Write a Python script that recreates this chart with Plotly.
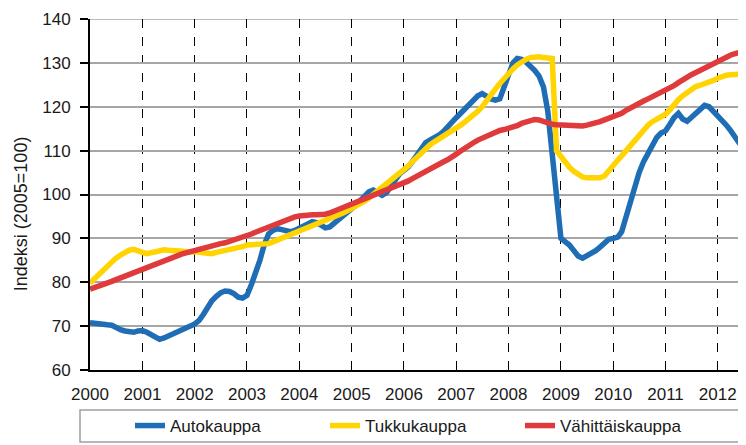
import pandas as pd
import plotly.graph_objects as go

months = pd.date_range("2000-01-01", periods=151, freq="MS")

autokauppa = [
    70.8, 70.6, 70.4, 70.5, 70.3, 70.2, 69.6, 69.2, 68.9, 68.7, 68.6, 68.9,
    69.0, 68.6, 68.0, 67.3, 67.0, 67.3, 67.8, 68.2, 68.8, 69.3, 69.7, 70.0,
    70.5, 71.3, 72.6, 74.2, 75.8, 76.8, 77.6, 78.0, 77.9, 77.4, 76.6, 76.4,
    77.0, 79.5, 82.0, 85.0, 88.5, 91.0, 91.8, 92.2, 92.0, 91.6, 91.5, 91.8,
    92.2, 92.7, 93.3, 93.8, 93.6, 93.0, 92.4, 92.6, 93.5, 94.5, 95.2, 96.0,
    96.8, 97.6, 98.5, 99.5, 100.6, 101.0, 100.3, 99.8, 100.4, 101.8, 103.3, 104.7,
    105.5, 106.3, 107.5, 109.0, 110.5, 111.8, 112.4, 112.8, 113.5, 114.3, 115.5, 116.3,
    117.5, 118.5, 119.5, 120.5, 121.5, 122.5, 123.0, 122.3, 121.8, 121.5, 121.8, 124.5,
    127.5, 130.0, 131.0, 130.8, 130.2, 129.3, 128.3, 127.0, 124.5, 119.0, 110.0, 99.0,
    90.0, 89.2, 88.5, 87.2, 86.0, 85.5, 86.0, 86.8, 87.2, 88.0, 89.0, 89.8,
    90.0, 90.3, 91.5, 95.0, 99.0, 102.5, 105.0, 107.5, 109.5, 111.5, 113.0, 114.0,
    114.5, 116.0, 117.5, 118.5, 117.2, 116.7, 117.5, 118.5, 119.5, 120.3, 120.0, 119.0,
    118.2, 117.0, 115.8, 114.5, 113.0, 111.6, 110.2,
]

tukkukauppa = [
    79.8, 80.8, 81.8, 82.8, 83.8, 84.8, 85.5, 86.2, 86.8, 87.3, 87.5, 87.3,
    86.8, 86.5, 86.7, 87.0, 87.2, 87.4, 87.3, 87.3, 87.1, 87.0, 87.0, 86.9,
    87.0, 86.9, 86.7, 86.5, 86.5, 86.8, 87.0, 87.0, 87.2, 87.5, 87.8, 88.1,
    88.5, 88.6, 88.7, 88.6, 88.6, 88.8, 89.2, 89.6, 90.0, 90.5, 91.0, 91.4,
    91.8, 92.1, 92.5, 92.8, 93.2, 93.6, 94.0, 94.4, 94.8, 95.3, 95.8, 96.3,
    96.8, 97.3, 97.8, 98.5, 99.2, 100.0, 100.8, 101.6, 102.4, 103.2, 104.0, 104.6,
    105.5, 106.5, 107.5, 108.5, 109.5, 110.5, 111.3, 112.0, 112.6, 113.2, 113.8, 114.4,
    115.0, 115.8, 116.5, 117.3, 118.0, 119.0, 120.0, 121.2, 122.5, 124.0, 125.3, 126.5,
    127.7, 128.6, 129.5, 130.3, 130.8, 131.2, 131.4, 131.4, 131.2, 131.2, 131.0, 110.0,
    108.5, 107.2, 106.2, 105.3, 104.5, 104.0, 103.8, 103.7, 103.7, 103.8, 104.2, 105.5,
    106.8, 107.8, 108.8, 110.0, 111.0, 112.5, 113.8, 114.8, 115.8, 116.6, 117.2, 117.6,
    118.3, 119.3, 120.5, 121.6, 122.5, 123.3, 124.0, 124.6, 124.9, 125.2, 125.5, 126.0,
    126.5, 127.0, 127.2, 127.3, 127.3, 127.4, 127.5,
]

vahittaiskauppa = [
    78.4, 78.7, 79.1, 79.5, 79.8, 80.2, 80.6, 81.0, 81.4, 81.8, 82.2, 82.6,
    83.0, 83.4, 83.9, 84.3, 84.7, 85.1, 85.5, 85.8, 86.1, 86.4, 86.7, 87.0,
    87.2, 87.5, 87.8, 88.0, 88.3, 88.5, 88.8, 89.0, 89.3, 89.6, 89.9, 90.2,
    90.6, 91.0, 91.4, 91.8, 92.3, 92.8, 93.2, 93.6, 94.0, 94.3, 94.6, 94.9,
    95.1, 95.3, 95.4, 95.4, 95.4, 95.4, 95.5, 95.8, 96.2, 96.7, 97.2, 97.6,
    97.9, 98.2, 98.6, 99.0, 99.4, 99.9, 100.3, 100.7, 101.1, 101.5, 101.8, 102.1,
    102.6, 103.1, 103.6, 104.2, 104.8, 105.3, 105.9, 106.4, 106.9, 107.4, 107.9, 108.4,
    109.2, 109.9, 110.6, 111.2, 111.8, 112.4, 112.9, 113.4, 113.9, 114.3, 114.6, 114.8,
    115.0, 115.3, 115.7, 116.2, 116.6, 116.9, 117.1, 117.0, 116.6, 116.2, 116.0, 115.9,
    115.8, 115.7, 115.6, 115.5, 115.5, 115.6, 115.8, 116.0, 116.3, 116.6, 117.0, 117.3,
    117.6, 118.0, 118.5, 119.2, 119.8, 120.3, 120.8, 121.3, 121.8, 122.3, 122.7, 123.0,
    123.5, 124.1, 124.8, 125.5, 126.2, 126.8, 127.3, 127.8, 128.3, 128.8, 129.3, 129.8,
    130.5, 131.1, 131.5, 131.8, 132.1, 132.4, 132.6,
]

series_names = ["Autokauppa", "Tukkukauppa", "Vähittäiskauppa"]
series_colors = ["#1f6db5", "#ffd400", "#df3a3c"]
year_ticks = [f"{y}-01-01" for y in range(2000, 2013)]
year_labels = [str(y) for y in range(2000, 2013)]
y_ticks = [60, 70, 80, 90, 100, 110, 120, 130, 140]

W, H = 746, 445
OFF = 8  # page body margin
TOP_S, BOT_S, LEFT_S = 18.5, 370, 90  # plot area edges on screen
L, T = LEFT_S - OFF, TOP_S - OFF
B = H - (BOT_S - OFF)
R = OFF
PW, PH = W - L - R, H - T - B

def px_x(sx):
    return (sx - LEFT_S) / PW

def px_y(sy):
    return (BOT_S - sy) / PH

fig = go.Figure()
for name, vals, col in zip(series_names, [autokauppa, tukkukauppa, vahittaiskauppa], series_colors):
    fig.add_trace(go.Scatter(x=months, y=vals, mode="lines", name=name,
                             line=dict(color=col, width=5.5)))

font = dict(family="Liberation Sans, Arial, sans-serif", size=17, color="#1a1a1a")

fig.update_layout(
    width=W, height=H,
    margin=dict(l=L, r=R, t=T, b=B, pad=0, autoexpand=False),
    paper_bgcolor="white", plot_bgcolor="white",
    font=font,
    showlegend=True,
    legend=dict(orientation="h", xref="container", yref="container",
                x=(130 - OFF) / W, xanchor="left",
                y=(H - (426 - OFF)) / H, yanchor="middle",
                entrywidth=150, entrywidthmode="pixels",
                font=dict(size=17, color="#1a1a1a"),
                bgcolor="rgba(0,0,0,0)", borderwidth=0, tracegroupgap=0),
    xaxis=dict(type="date", range=["2000-01-01", "2012-07-16"],
               tickvals=year_ticks, ticktext=year_labels,
               showgrid=True, gridcolor="black", gridwidth=1, griddash="dash",
               showline=True, linecolor="black", linewidth=2,
               ticks="", tickfont=font, zeroline=False, automargin=False,
               ticklabelstandoff=8),
    yaxis=dict(range=[60, 140], tickvals=y_ticks,
               showgrid=True, gridcolor="#a6a6a6", gridwidth=1.5,
               showline=True, linecolor="black", linewidth=2,
               ticks="outside", ticklen=8, tickwidth=2, tickcolor="black",
               ticklabelstandoff=6, automargin=False, ticklabeloverflow="allow",
               tickfont=font, zeroline=False),
    annotations=[dict(text="Indeksi (2005=100)", textangle=-90, showarrow=False,
                      xref="paper", yref="paper", x=px_x(21), y=px_y(214),
                      xanchor="center", yanchor="middle",
                      font=dict(size=18, color="#1a1a1a"))],
)

# top grid line at the edge of the plot
fig.add_shape(type="line", xref="paper", yref="y", x0=0, x1=1, y0=140, y1=140,
              line=dict(color="#a6a6a6", width=1.5), layer="below")

# legend frame
fig.add_shape(type="rect", xref="paper", yref="paper",
              x0=px_x(80), x1=px_x(745), y0=px_y(442), y1=px_y(410),
              line=dict(color="#a0a0a0", width=1.5), fillcolor="rgba(0,0,0,0)")

fig.write_html("out.html")
